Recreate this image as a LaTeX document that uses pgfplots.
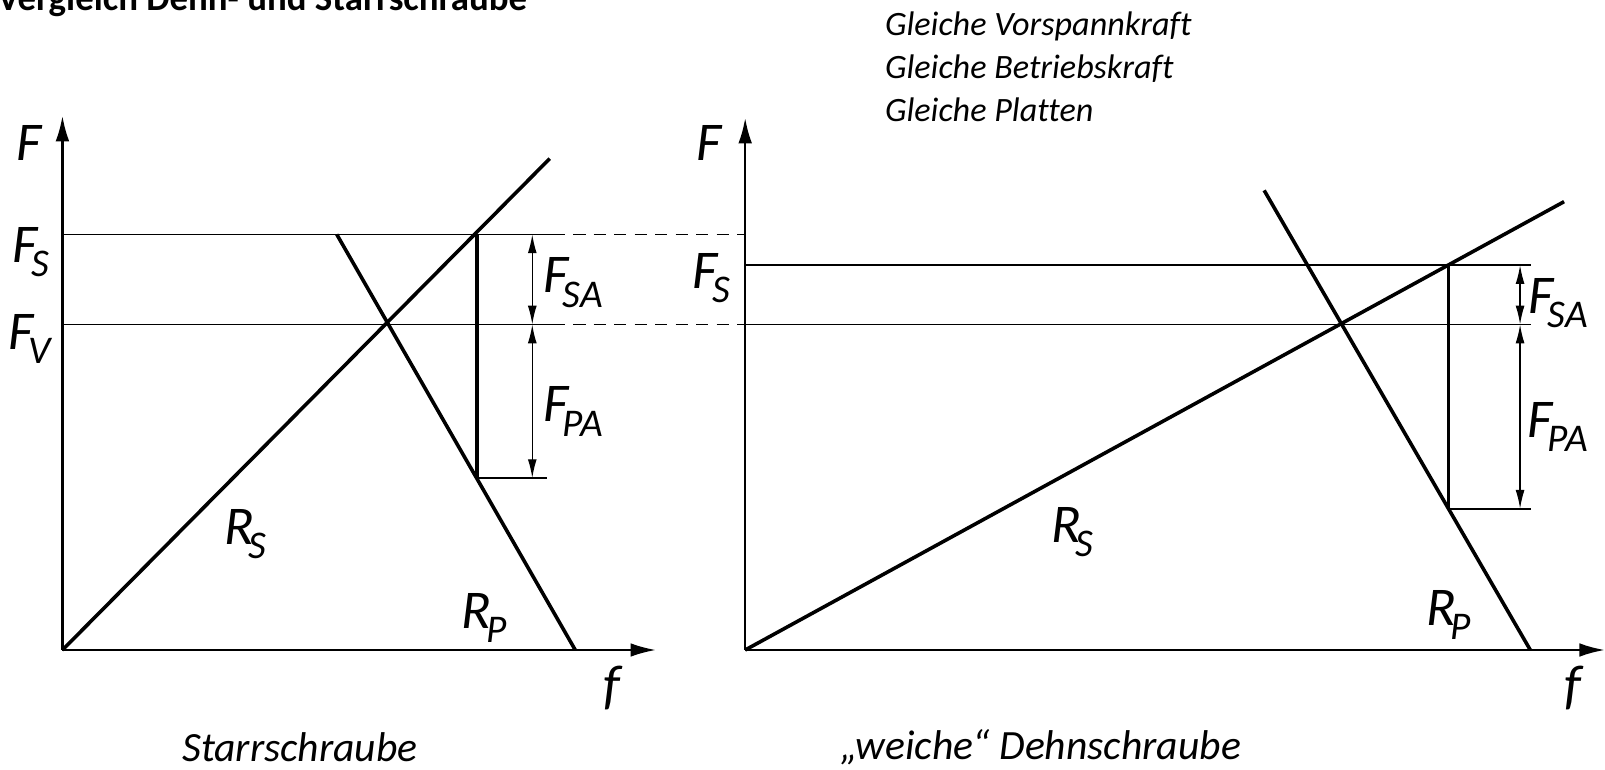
\documentclass[border=0pt]{standalone}
\usepackage{fontspec}
\setmainfont{Carlito}[Ligatures=CommonOff]
\usepackage{pgfplots}
\pgfplotsset{compat=1.18}
\usetikzlibrary{arrows.meta}

\newcommand{\lab}[2]{{\fontsize{16}{16}\selectfont\itshape #1\kern-0.1em\raisebox{-4.2pt}{\fontsize{11.5}{12}\selectfont #2}}}
\newcommand{\bigF}[1]{{\fontsize{16}{16}\selectfont\itshape #1}}

\pgfplotsset{
  schema/.style={
    x=0.3pt, y=0.3pt, anchor=south west,
    axis lines=left, xmin=0, ymin=0,
    ticks=none, clip=false, enlargelimits=false,
    axis line style={line width=0.75pt, black, -{Latex[length=7.5pt,width=4pt]}},
  },
  thickl/.style={black, line width=1.05pt, no marks},
  thinl/.style={black, line width=0.45pt, no marks},
  diml/.style={black, line width=0.4pt, no marks, {Latex[length=5.5pt,width=2.6pt]}-{Latex[length=5.5pt,width=2.6pt]}},
  dashl/.style={black, line width=0.45pt, no marks, dash pattern=on 3.6pt off 2.4pt},
}

\begin{document}
\begin{tikzpicture}
\useasboundingbox (0,0) rectangle (470.4pt,225.6pt);
\clip (0,0) rectangle (470.4pt,225.6pt);

% ---------- left: Starrschraube ----------
\begin{axis}[schema, at={(18.3pt,35.1pt)}, xmax=580, ymax=522]
  \addplot[thickl] coordinates {(0,0) (476,480)};
  \addplot[thickl] coordinates {(268,406) (501,0)};
  \addplot[thickl] coordinates {(405,406) (405,168)};
  \addplot[thinl] coordinates {(0,406) (479,406)};
  \addplot[thinl] coordinates {(0,318) (479,318)};
  \addplot[thinl] coordinates {(405,168) (473,168)};
  \addplot[dashl] coordinates {(479,406) (666,406)};
  \addplot[dashl] coordinates {(479,318) (666,318)};
  \addplot[diml] coordinates {(459,406) (459,318)};
  \addplot[diml] coordinates {(459,318) (459,168)};
  \node at (axis cs:-33,495) {\bigF{F}};
  \node at (axis cs:-31,389) {\lab{F}{S}};
  \node at (axis cs:-32,304) {\lab{F}{V}};
  \node at (axis cs:499,359) {\lab{F}{SA}};
  \node at (axis cs:499,233) {\lab{F}{PA}};
  \node at (axis cs:179,113) {\lab{R}{S}};
  \node at (axis cs:412,31) {\lab{R}{P}};
  \node at (axis cs:537,-37) {\bigF{f}};
  \node[font=\fontsize{12.2}{14}\selectfont\itshape] at (axis cs:232,-95) {Starrschraube};
\end{axis}

% ---------- right: Dehnschraube ----------
\begin{axis}[schema, at={(218.4pt,35.1pt)}, xmax=840, ymax=520]
  \addplot[thickl] coordinates {(0,0) (800,438)};
  \addplot[thickl] coordinates {(507,449) (767,0)};
  \addplot[black, line width=0.75pt, no marks] coordinates {(687,376) (687,138)};
  \addplot[thinl] coordinates {(0,376) (768,376)};
  \addplot[thinl] coordinates {(0,318) (768,318)};
  \addplot[thinl] coordinates {(687,138) (768,138)};
  \addplot[diml] coordinates {(757,376) (757,318)};
  \addplot[diml] coordinates {(757,318) (757,138)};
  \node at (axis cs:-35,495) {\bigF{F}};
  \node at (axis cs:-33,363) {\lab{F}{S}};
  \node at (axis cs:794,339) {\lab{F}{SA}};
  \node at (axis cs:794,218) {\lab{F}{PA}};
  \node at (axis cs:320,115) {\lab{R}{S}};
  \node at (axis cs:687,34) {\lab{R}{P}};
  \node at (axis cs:809,-37) {\bigF{f}};
  \node[font=\fontsize{12.2}{14}\selectfont\itshape] at (axis cs:289,-95) {„weiche“ Dehnschraube};
  \node[anchor=base west, inner sep=0pt, font=\fontsize{10}{12}\selectfont\itshape] at (axis cs:136,600) {Gleiche Vorspannkraft};
  \node[anchor=base west, inner sep=0pt, font=\fontsize{10}{12}\selectfont\itshape] at (axis cs:136,558) {Gleiche Betriebskraft};
  \node[anchor=base west, inner sep=0pt, font=\fontsize{10}{12}\selectfont\itshape] at (axis cs:136,516) {Gleiche Platten};
\end{axis}

\node[anchor=base west, inner sep=0pt, font=\fontsize{10.8}{13}\selectfont\bfseries] at (-0.9pt,222.45pt) {Vergleich Dehn- und Starrschraube};
\end{tikzpicture}
\end{document}
